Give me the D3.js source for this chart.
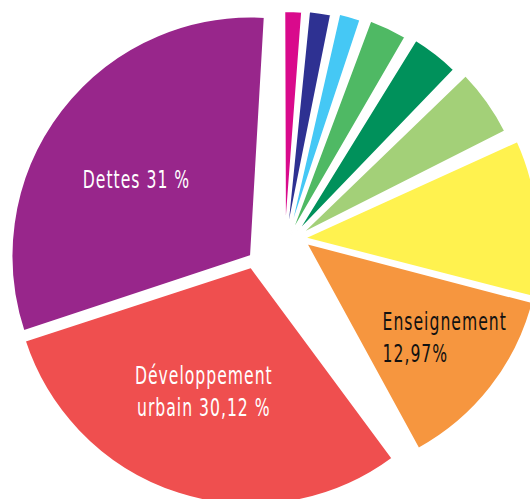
<!DOCTYPE html>
<html>
<head>
<meta charset="utf-8">
<script src="https://cdn.jsdelivr.net/npm/d3@7"></script>
<style>
  html, body { margin: 0; padding: 0; background: #fff; }
  svg { display: block; }
</style>
</head>
<body>
<svg id="chart" width="530" height="499"></svg>
<script>
// ---- Data (clockwise from 12 o'clock) ----
const categories = ["Poste A", "Poste B", "Poste C", "Poste D", "Poste E", "Poste F", "Poste G",
                    "Enseignement", "Développement urbain", "Dettes"];
const values = [1.24, 1.54, 1.52, 2.68, 3.39, 4.75, 10.79, 12.97, 30.12, 31];
const labelLines = [null, null, null, null, null, null, null,
                    ["Enseignement", "12,97%"],
                    ["Développement", "urbain 30,12 %"],
                    ["Dettes 31 %"]];

// ---- Styling / layout ----
const colors = ["#D90A8C", "#2E3192", "#45C8F5", "#4FB964", "#00915B", "#A3D078", "#FFF24F",
                "#F6963F", "#EF4F4F", "#98268B"];
const labelColors = ["#fff", "#fff", "#fff", "#fff", "#fff", "#fff", "#fff", "#111", "#fff", "#fff"];
const center = [285, 240];
const explode = [[0, 1], [1, 0], [3, -2], [5, -4], [11, -6], [15, -5], [19, -2], [21, 3], [-34, 27], [-34, 16]];
const rotateDeg = [-3.58, -2.10, -0.52, 1.60, 3.17, 5.32, 7.75, 7.98, 0.12, -0.10];
const radii = [230, 230, 230, 230, 228, 230, 234.5, 234.5, 238, 239.5];
const labelPlace = [null, null, null, null, null, null, null, [0.715, -3.8], [0.561, 3.0], [0.576, -3.6]];
const startDeg = 3.4;
const fontSize = 24.5;
const condense = 0.71;
const lineH = 32;

const rad = d => d * Math.PI / 180;
const svg = d3.select("#chart");

const pie = d3.pie().sort(null).value(d => d)
  .startAngle(rad(startDeg)).endAngle(rad(startDeg) + 2 * Math.PI);
const arcs = pie(values);

const g = svg.append("g");
const slices = g.selectAll("g.slice").data(arcs).join("g")
  .attr("class", "slice")
  .attr("transform", (d, i) =>
    `translate(${center[0] + explode[i][0]},${center[1] + explode[i][1]}) rotate(${rotateDeg[i]})`);

slices.append("path")
  .attr("d", (d, i) => d3.arc().innerRadius(0).outerRadius(radii[i])(d))
  .attr("fill", (d, i) => colors[i])
  .attr("stroke", "#fff")
  .attr("stroke-width", 2)
  .attr("stroke-linejoin", "miter");

const fontFamily = "'Liberation Sans Narrow', 'DejaVu Sans Condensed', 'Roboto', sans-serif";

arcs.forEach((d, i) => {
  if (!labelLines[i]) return;
  const p = labelPlace[i];
  const ang = (d.startAngle + d.endAngle) / 2 + rad(rotateDeg[i] + p[1]);
  const r = radii[i] * p[0];
  const cx = center[0] + explode[i][0] + r * Math.sin(ang);
  const cy = center[1] + explode[i][1] - r * Math.cos(ang);
  const lines = labelLines[i];
  const n = lines.length;
  const firstBase = n === 1 ? cy + 9 : cy - 7.5;
  const t = svg.append("text")
    .attr("transform", `translate(${cx},0) scale(${condense},1)`)
    .attr("font-family", fontFamily)
    .attr("font-stretch", "condensed")
    .attr("font-size", fontSize)
    .attr("letter-spacing", 1.4)
    .attr("fill", labelColors[i]);
  const leftAlign = i === 7;
  const spans = lines.map((s, k) => t.append("tspan")
    .attr("y", firstBase + k * lineH)
    .text(s));
  if (leftAlign) {
    const w = spans[0].node().getComputedTextLength();
    spans.forEach(sp => sp.attr("x", -w / 2));
    t.attr("text-anchor", "start");
  } else {
    spans.forEach(sp => sp.attr("x", 0));
    t.attr("text-anchor", "middle");
  }
});
</script>
</body>
</html>
